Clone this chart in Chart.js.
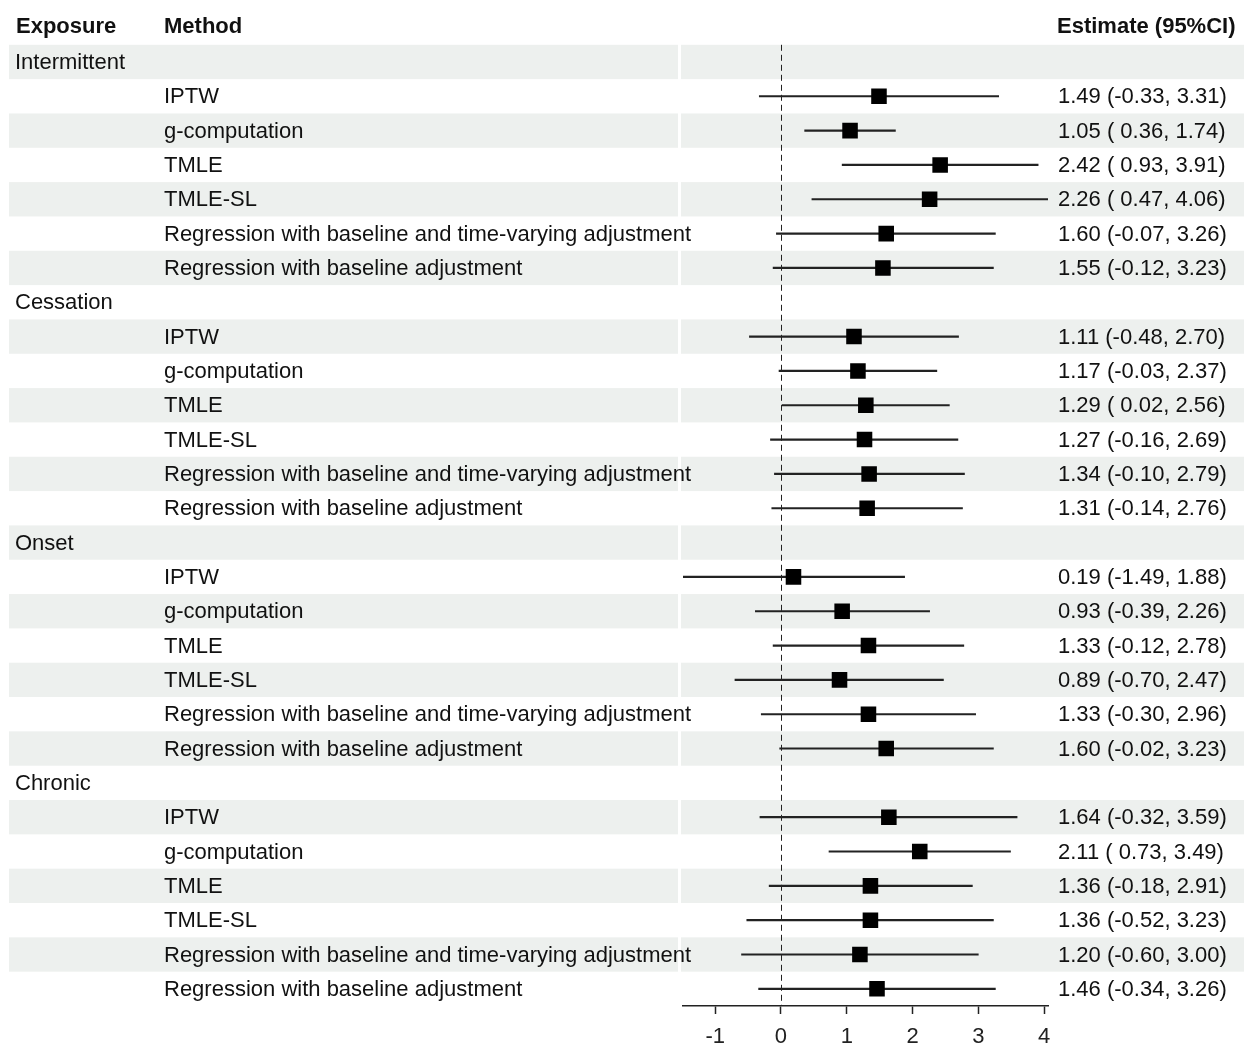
<!DOCTYPE html>
<html>
<head>
<meta charset="utf-8">
<script src="https://cdn.jsdelivr.net/npm/chart.js@4/dist/chart.umd.min.js"></script>
<style>
    html, body { margin: 0; padding: 0; background: #fff; }
    #wrap { width: 1244px; height: 1046px; position: relative; }
</style>
</head>
<body>
<div id="wrap"><canvas id="forest" width="1244" height="1046"></canvas></div>
<script>
// Exposure groups and methods (same order in every group)
const exposures = ['Intermittent', 'Cessation', 'Onset', 'Chronic'];
const methods = [
    'IPTW',
    'g-computation',
    'TMLE',
    'TMLE-SL',
    'Regression with baseline and time-varying adjustment',
    'Regression with baseline adjustment'
];

// Estimates and 95% CI bounds, one array per exposure
const intermittentEst = [1.49, 1.05, 2.42, 2.26, 1.60, 1.55];
const intermittentLow = [-0.33, 0.36, 0.93, 0.47, -0.07, -0.12];
const intermittentHigh = [3.31, 1.74, 3.91, 4.06, 3.26, 3.23];

const cessationEst = [1.11, 1.17, 1.29, 1.27, 1.34, 1.31];
const cessationLow = [-0.48, -0.03, 0.02, -0.16, -0.10, -0.14];
const cessationHigh = [2.70, 2.37, 2.56, 2.69, 2.79, 2.76];

const onsetEst = [0.19, 0.93, 1.33, 0.89, 1.33, 1.60];
const onsetLow = [-1.49, -0.39, -0.12, -0.70, -0.30, -0.02];
const onsetHigh = [1.88, 2.26, 2.78, 2.47, 2.96, 3.23];

const chronicEst = [1.64, 2.11, 1.36, 1.36, 1.20, 1.46];
const chronicLow = [-0.32, 0.73, -0.18, -0.52, -0.60, -0.34];
const chronicHigh = [3.59, 3.49, 2.91, 3.23, 3.00, 3.26];

const xTicks = [-1, 0, 1, 2, 3, 4];
const xMin = -1.49;
const xMax = 4.06;

const FONT = '"Liberation Sans", Arial, sans-serif';
const STRIPE = '#edf0ee';

// Build the row table: a header row for each exposure, then its methods
const groupEst = [intermittentEst, cessationEst, onsetEst, chronicEst];
const groupLow = [intermittentLow, cessationLow, onsetLow, chronicLow];
const groupHigh = [intermittentHigh, cessationHigh, onsetHigh, chronicHigh];

const rows = [];
exposures.forEach((exp, g) => {
    rows.push({ exposure: exp, method: '', est: null, lo: null, hi: null });
    methods.forEach((m, i) => {
        rows.push({
            exposure: '',
            method: m,
            est: groupEst[g][i],
            lo: groupLow[g][i],
            hi: groupHigh[g][i]
        });
    });
});

// "1.05 ( 0.36, 1.74)" style: positive lower bound gets a leading space
function ciText(r) {
    const lo = r.lo < 0 ? r.lo.toFixed(2) : ' ' + r.lo.toFixed(2);
    return r.est.toFixed(2) + ' (' + lo + ', ' + r.hi.toFixed(2) + ')';
}

// Stripes, dashed null line and the text columns
const tablePlugin = {
    id: 'forestTable',
    beforeDraw(chart) {
        const ctx = chart.ctx;
        const y = chart.scales.y;
        const band = (chart.chartArea.bottom - chart.chartArea.top) / rows.length;
        ctx.save();
        ctx.fillStyle = STRIPE;
        rows.forEach((r, i) => {
            if (i % 2 !== 0) return;
            const top = y.getPixelForValue(i) - band / 2;
            ctx.fillRect(9, top, 669, band);
            ctx.fillRect(681, top, chart.width - 681, band);
        });
        ctx.restore();
    },
    beforeDatasetsDraw(chart) {
        const ctx = chart.ctx;
        // snap to the pixel grid so the dashes stay dark
        const x0 = Math.round(chart.scales.x.getPixelForValue(0)) + 0.5;
        ctx.save();
        ctx.strokeStyle = '#222';
        ctx.lineWidth = 1;
        ctx.setLineDash([6, 4]);
        ctx.beginPath();
        ctx.moveTo(x0, chart.chartArea.top);
        ctx.lineTo(x0, chart.chartArea.bottom);
        ctx.stroke();
        ctx.restore();
    },
    afterDraw(chart) {
        const ctx = chart.ctx;
        const y = chart.scales.y;
        ctx.save();
        ctx.fillStyle = '#111';
        ctx.textBaseline = 'middle';
        ctx.textAlign = 'left';

        // Column headers
        ctx.font = 'bold 22px ' + FONT;
        ctx.fillText('Exposure', 16, 27);
        ctx.fillText('Method', 164, 27);
        ctx.fillText('Estimate (95%CI)', 1057, 27);

        ctx.font = '22px ' + FONT;
        rows.forEach((r, i) => {
            const py = y.getPixelForValue(i) + 1;
            if (r.exposure) ctx.fillText(r.exposure, 15, py);
            if (r.method) ctx.fillText(r.method, 164, py);
            if (r.est !== null) ctx.fillText(ciText(r), 1058, py);
        });
        ctx.restore();
    }
};

const ctx = document.getElementById('forest').getContext('2d');
const forestChart = new Chart(ctx, {
    type: 'bar',
    data: {
        labels: rows.map(r => r.exposure || r.method),
        datasets: [
            {
                // point estimates
                type: 'line',
                label: 'Estimate',
                data: rows.map(r => r.est),
                showLine: false,
                pointStyle: 'rect',
                pointRadius: 11,
                pointHoverRadius: 11,
                pointBackgroundColor: '#000',
                pointBorderWidth: 0,
                order: 0
            },
            {
                // 95% CI
                label: '95% CI',
                data: rows.map(r => (r.lo === null ? null : [r.lo, r.hi])),
                backgroundColor: '#222',
                borderWidth: 0,
                barThickness: 1.5,
                order: 1
            }
        ]
    },
    options: {
        indexAxis: 'y',
        responsive: false,
        animation: false,
        events: [],
        layout: {
            padding: { left: 683, right: 196, top: 44.8, bottom: 0 }
        },
        scales: {
            y: {
                type: 'category',
                display: false,
                offset: true
            },
            x: {
                type: 'linear',
                min: xMin,
                max: xMax,
                afterBuildTicks(scale) {
                    scale.ticks = xTicks.map(v => ({ value: v }));
                },
                afterFit(scale) {
                    scale.height = 40;
                },
                border: { display: true, color: '#222', width: 1.5 },
                grid: {
                    drawOnChartArea: false,
                    drawTicks: true,
                    tickLength: 8,
                    tickWidth: 1.5,
                    tickColor: '#222'
                },
                ticks: {
                    color: '#222',
                    padding: 10,
                    maxRotation: 0,
                    font: { family: FONT, size: 22 }
                }
            }
        },
        plugins: {
            legend: { display: false },
            tooltip: { enabled: false }
        }
    },
    plugins: [tablePlugin]
});
</script>
</body>
</html>
